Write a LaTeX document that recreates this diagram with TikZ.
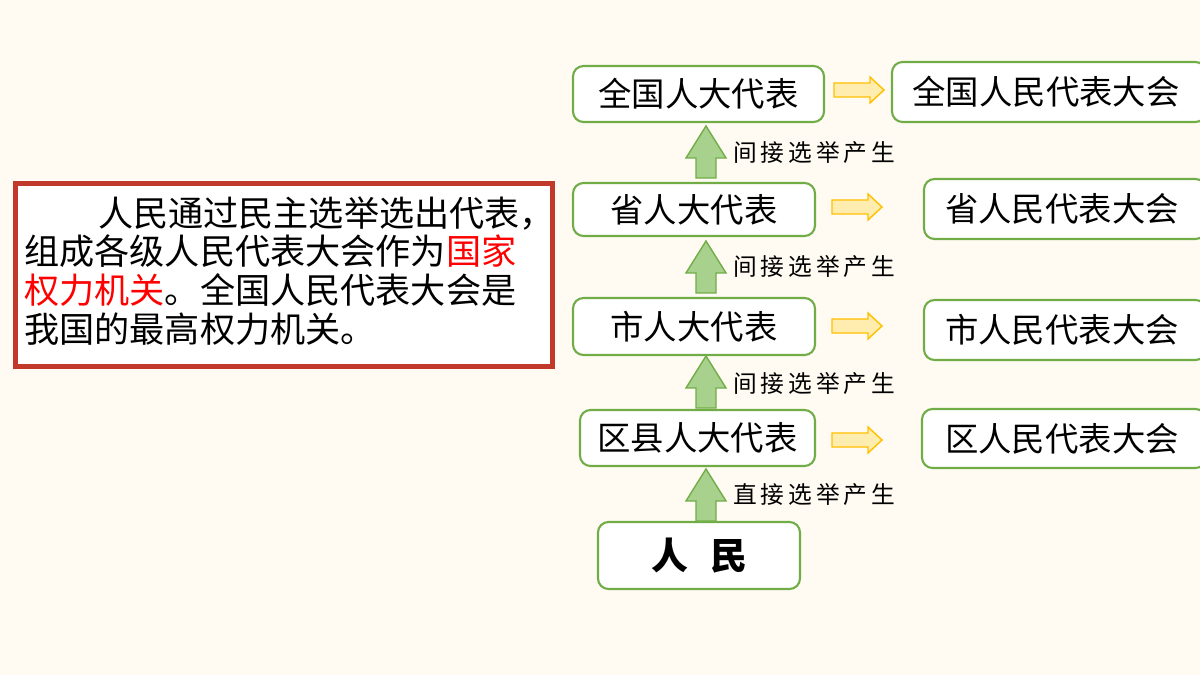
\documentclass[tikz,border=0pt]{standalone}
\usepackage{fontspec}
\setmainfont{Noto Sans CJK SC}
\definecolor{bg}{HTML}{FFFBF2}
\definecolor{gb}{HTML}{70AD47}
\definecolor{gf}{HTML}{A9D18E}
\definecolor{yb}{HTML}{FFC000}
\definecolor{yf}{HTML}{FFEDB0}
\definecolor{rb}{HTML}{C0392B}
\begin{document}
\begin{tikzpicture}[x=0.02cm,y=-0.02cm,
 box/.style={draw=gb,line width=1.2pt,fill=white,rounded corners=6pt,inner sep=0pt},
 up/.style={draw=gb,fill=gf,line width=0.8pt,line join=miter},
 rt/.style={draw=yb,fill=yf,line width=0.8pt,line join=miter},
 bt/.style={font=\fontsize{19}{21}\selectfont},
 lab/.style={anchor=west,font=\fontsize{13.5}{15}\selectfont},
 upar/.pic={\path[up] (-10,26) -- (-10,6) -- (-20,6) -- (0,-26) -- (20,6) -- (10,6) -- (10,26) -- cycle;},
 rtar/.pic={\path[rt] (-25,-7) -- (11,-7) -- (11,-13) -- (25,0) -- (11,13) -- (11,7) -- (-25,7) -- cycle;}]
\fill[bg] (0,0) rectangle (1200,675);
\useasboundingbox (0,0) rectangle (1200,675);
% left box
\node[draw=rb,line width=2.5pt,fill=white,minimum width=537*0.02cm,minimum height=183*0.02cm,inner sep=0pt] (txt) at (284,275) {};
\node[anchor=north west,align=left,font=\fontsize{20}{22}\selectfont,inner sep=0pt] (para) at (24,196)
{\hspace*{2.1em}人民通过民主选举选出代表，\\组成各级人民代表大会作为\textcolor{red}{国家}\\\textcolor{red}{权力机关}。全国人民代表大会是\\我国的最高权力机关。};
% left column
\path[box] (573,66) rectangle (824,122);
\node[bt] (a1) at (698.5,94) {全国人大代表};
\path[box] (573,183) rectangle (815,236);
\node[bt] (a2) at (694,209.5) {省人大代表};
\path[box] (573,298) rectangle (815,355);
\node[bt] (a3) at (694,326.5) {市人大代表};
\path[box] (580,410) rectangle (815,466);
\node[bt] (a4) at (697.5,438) {区县人大代表};
\path[box] (598,522) rectangle (800,589);
\node[font=\fontsize{21}{23}\selectfont] (a5) at (699,555.5) {\textbf{人\hspace{0.6em}民}};
% right column
\path[box] (892,62) rectangle (1206,122); \node[bt] (b1) at (1046,92) {全国人民代表大会};
\path[box] (924,179) rectangle (1206,239); \node[bt] (b2) at (1062,209) {省人民代表大会};
\path[box] (924,300) rectangle (1206,360); \node[bt] (b3) at (1062,330) {市人民代表大会};
\path[box] (922,409) rectangle (1206,468); \node[bt] (b4) at (1062,438.5) {区人民代表大会};
% up arrows
\pic at (706,152) {upar};
\pic at (706,267) {upar};
\pic at (706,382) {upar};
\pic at (706,495) {upar};
\node[lab] (l1) at (727,153) {间\,接\,选\,举\,产\,生};
\node[lab] (l2) at (727,267) {间\,接\,选\,举\,产\,生};
\node[lab] (l3) at (727,383) {间\,接\,选\,举\,产\,生};
\node[lab] (l4) at (727,494) {直\,接\,选\,举\,产\,生};
% right arrows
\pic at (859,90) {rtar};
\pic at (857,207) {rtar};
\pic at (857,326) {rtar};
\pic at (857,440) {rtar};
\end{tikzpicture}
\end{document}
